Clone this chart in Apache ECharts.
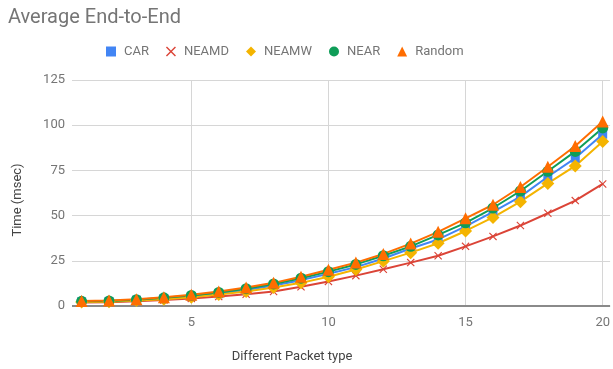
<!DOCTYPE html>
<html>
<head>
<meta charset="utf-8">
<script src="https://cdn.jsdelivr.net/npm/echarts@6/dist/echarts.min.js"></script>
<style>
  html, body { margin: 0; padding: 0; background: #fff; }
  #chart { width: 613px; height: 369px; }
</style>
</head>
<body>
<div id="chart"></div>
<script>
// Packet types 1..20
const packetTypes = [1, 2, 3, 4, 5, 6, 7, 8, 9, 10, 11, 12, 13, 14, 15, 16, 17, 18, 19, 20];

// Average end-to-end delay (msec) per routing scheme
const carDelay    = [2.3, 2.5, 3.2, 4.1, 5.3, 6.8, 8.8, 11.3, 14.3, 17.8, 21.5, 26.3, 31.8, 36.8, 44.0, 52.0, 60.5, 71.5, 81.8, 95.0];
const neamdDelay  = [1.9, 2.1, 2.6, 3.3, 4.2, 5.2, 6.5, 8.0, 10.6, 13.6, 16.8, 20.3, 24.0, 27.8, 33.0, 38.5, 44.5, 51.3, 58.3, 67.5];
const neamwDelay  = [2.2, 2.4, 3.0, 3.8, 4.9, 6.3, 8.0, 10.2, 12.8, 16.2, 20.2, 24.8, 29.5, 34.7, 41.5, 49.0, 57.7, 67.8, 77.5, 91.0];
const nearDelay   = [2.6, 2.8, 3.5, 4.5, 5.8, 7.5, 9.6, 12.2, 15.4, 19.0, 23.0, 27.8, 33.0, 39.3, 46.0, 54.2, 63.6, 74.5, 85.5, 98.5];
const randomDelay = [2.8, 3.0, 3.8, 4.8, 6.2, 8.0, 10.2, 12.8, 16.2, 20.0, 24.0, 28.8, 34.5, 41.0, 48.5, 56.0, 65.8, 77.0, 88.5, 102.0];

const seriesNames = ['CAR', 'NEAMD', 'NEAMW', 'NEAR', 'Random'];
const yTicks = [0, 25, 50, 75, 100, 125];

const crossIcon = 'path://M1,0L5,4L9,0L10,1L6,5L10,9L9,10L5,6L1,10L0,9L4,5L0,1Z';

const styles = {
  CAR:    { color: '#4285F4', symbol: 'rect',     size: 9 },
  NEAMD:  { color: '#DB4437', symbol: crossIcon,  size: 8 },
  NEAMW:  { color: '#F4B400', symbol: 'diamond',  size: 13 },
  NEAR:   { color: '#0F9D58', symbol: 'circle',   size: 11 },
  Random: { color: '#FF6D00', symbol: 'triangle', size: 12 }
};

const values = {
  CAR: carDelay, NEAMD: neamdDelay, NEAMW: neamwDelay, NEAR: nearDelay, Random: randomDelay
};

const textColor = '#757575';
const font = 'Roboto, Arial, sans-serif';

const chart = echarts.init(document.getElementById('chart'), null, { renderer: 'canvas' });

chart.setOption({
  animation: false,
  backgroundColor: '#fff',
  textStyle: { fontFamily: font },
  title: {
    text: 'Average End-to-End',
    left: 3,
    top: 3,
    textStyle: { fontFamily: font, fontSize: 20, fontWeight: 'normal', color: textColor }
  },
  legend: {
    left: 106,
    top: 45,
    padding: 0,
    itemGap: 17,
    itemWidth: 10,
    itemHeight: 10,
    textStyle: { fontFamily: font, fontSize: 13, color: textColor, padding: [0, 0, 0, 3] },
    data: seriesNames.map(n => ({
      name: n,
      icon: n === 'NEAMW' ? 'diamond' : n === 'NEAR' ? 'circle' : n === 'Random' ? 'triangle' : n === 'CAR' ? 'rect' : crossIcon,
      itemStyle: { color: styles[n].color }
    }))
  },
  grid: { left: 72, right: 0, top: 80, bottom: 63, containLabel: false },
  xAxis: {
    type: 'value',
    min: 0.65,
    max: 20.27,
    splitNumber: 4,
    name: 'Different Packet type',
    nameLocation: 'middle',
    nameGap: 44,
    nameTextStyle: { fontFamily: font, fontSize: 13, color: '#444', padding: [0, 98, 0, 0] },
    axisLine: { show: false },
    axisTick: { show: false },
    axisLabel: {
      fontFamily: font, fontSize: 13, color: textColor, margin: 10,
      showMinLabel: false, showMaxLabel: false,
      formatter: v => (Number.isInteger(v) ? String(v) : '')
    },
    splitLine: { show: true, showMinLine: false, showMaxLine: false, lineStyle: { color: '#d6d6d6', width: 1 } }
  },
  yAxis: {
    type: 'value',
    min: yTicks[0],
    max: yTicks[yTicks.length - 1],
    interval: 25,
    name: 'Time (msec)',
    nameLocation: 'middle',
    nameGap: 48,
    nameTextStyle: { fontFamily: font, fontSize: 13, color: '#444', padding: [0, 14, 0, 0] },
    axisLine: { show: false },
    axisTick: { show: false },
    axisLabel: { fontFamily: font, fontSize: 13, color: textColor, margin: 7 },
    splitLine: { show: true, lineStyle: { color: '#d6d6d6', width: 1 } }
  },
  series: seriesNames.map(n => ({
    name: n,
    type: 'line',
    data: packetTypes.map((x, i) => [x, values[n][i]]),
    symbol: styles[n].symbol,
    symbolSize: styles[n].size,
    showAllSymbol: true,
    lineStyle: { color: styles[n].color, width: 2 },
    itemStyle: { color: styles[n].color },
    emphasis: { disabled: true },
    z: 3,
    markLine: n === 'CAR' ? {
      silent: true,
      symbol: 'none',
      label: { show: false },
      lineStyle: { color: '#8a8a8a', width: 2, type: 'solid' },
      data: [{ yAxis: 0 }],
      z: 1
    } : undefined
  }))
});
</script>
</body>
</html>
